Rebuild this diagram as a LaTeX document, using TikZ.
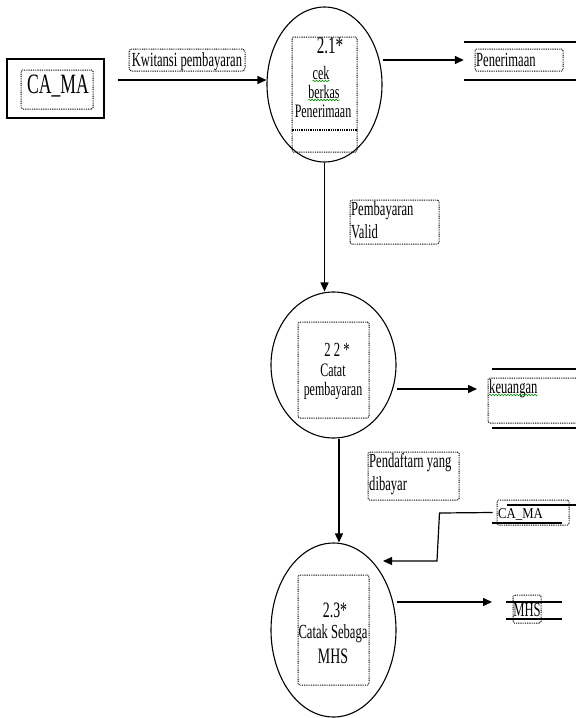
\documentclass[tikz,border=0pt]{standalone}
\usepackage{fontspec}
\setmainfont[FakeStretch=0.63]{Liberation Serif}
\newfontfamily\widefont[FakeStretch=0.85]{Liberation Serif}
\usetikzlibrary{shapes.geometric,arrows.meta,decorations.pathmorphing,calc}
\begin{document}
\begin{tikzpicture}[x=1pt,y=-1pt,
  proc/.style={ellipse,draw,line width=1.1pt,inner sep=0pt},
  dotbox/.style={draw,dash pattern=on 0.9pt off 0.9pt,line width=1pt,rounded corners=1.5pt,inner sep=0pt},
  t/.style={inner sep=0pt,font=\fontsize{20}{22}\selectfont},
  ts/.style={inner sep=0pt,font=\fontsize{19}{21}\selectfont},
  arr/.style={line width=1.4pt,-{Triangle[length=9pt,width=8pt]}},
  storeline/.style={line width=1.8pt},
  squig/.style={draw=green!55!black,line width=0.6pt,decorate,decoration={snake,amplitude=0.7pt,segment length=3pt}}
]
\useasboundingbox (0,0) rectangle (576,718);

% external entity CA_MA
\node[draw,line width=1.3pt,minimum width=97pt,minimum height=59pt,inner sep=0pt] (ext) at (55.5,88.5) {};
\node[dotbox,minimum width=72pt,minimum height=39pt] (extb) at (57,89.5) {};
\node[t,font=\fontsize{28}{30}\selectfont,anchor=base] (extt) at (58,93) {CA\_MA};

% label Kwitansi
\node[dotbox,rounded corners=3pt,minimum width=116pt,minimum height=22pt] (kwb) at (187,60) {};
\node[t,anchor=base] (kwt) at (187,66) {Kwitansi pembayaran};

% process 2.1
\node[proc,minimum width=115pt,minimum height=155pt] (p1) at (324.5,84.5) {};
\coordinate (a1) at (118,80);
\draw[arr] (a1) -- (a1 -| p1.west);
\node[dotbox,minimum width=65pt,minimum height=115pt] (p1b) at (324.5,94.5) {};
\draw[dash pattern=on 0.9pt off 0.9pt,line width=1.5pt] ($(p1b.south west)+(0,-22.5)$) -- ($(p1b.south east)+(0,-22.5)$);
\node[t,font=\fontsize{24}{26}\selectfont,anchor=base] (p1n) at (330,53) {2.1*};
\node[ts,anchor=base] (p1l1) at (321,79) {cek};
\node[ts,anchor=base] (p1l2) at (324,98) {berkas};
\node[ts,anchor=base] (p1l3) at (323,117) {Penerimaan};
\draw[squig] ($(p1l1.base west)+(0,2)$) -- ($(p1l1.base east)+(0,2)$);
\draw[squig] ($(p1l2.base west)+(0,2)$) -- ($(p1l2.base east)+(0,2)$);

% store Penerimaan
\node[minimum width=112pt,minimum height=38pt,inner sep=0pt] (s1) at (520,61) {};
\draw[storeline] (s1.north west) -- (s1.north east) (s1.south west) -- (s1.south east);
\node[dotbox,minimum width=88pt,minimum height=22pt] (s1b) at (519,60) {};
\node[t,anchor=base west] (s1t) at (476,66) {Penerimaan};
\draw[arr] (p1.east |- s1b) -- (s1.west |- s1b);

% process 2.2
\node[proc,minimum width=125pt,minimum height=146pt] (p2) at (333.5,365) {};
\draw[arr] (p1.south) -- (p1.south |- p2.north);
\node[dotbox,minimum width=89pt,minimum height=44pt] (pvb) at (394.5,222) {};
\node[t,anchor=base west] (pv1) at (351,215) {Pembayaran};
\node[t,anchor=base west] (pv2) at (351,238) {Valid};
\node[dotbox,minimum width=71pt,minimum height=96pt] (p2b) at (333.5,370) {};
\node[t,anchor=base] (p2n) at (337,356) {2 2 *};
\node[ts,anchor=base] (p2l1) at (333,376) {Catat};
\node[ts,anchor=base] (p2l2) at (333,395) {pembayaran};

% store keuangan
\node[minimum width=84pt,minimum height=59pt,inner sep=0pt] (s2) at (534,398.5) {};
\draw[storeline] (s2.north west) -- (s2.north east) (s2.south west) -- (s2.south east);
\node[dotbox,minimum width=95pt,minimum height=45pt] (s2b) at (535.5,400.5) {};
\node[t,anchor=base west] (s2t) at (489,393) {keuangan};
\draw[squig] ($(s2t.base west)+(0,2)$) -- ($(s2t.base east)+(0,2)$);
\coordinate (k1) at (477,389);
\draw[arr] (p2.east |- k1) -- (k1);

% process 2.3
\node[proc,minimum width=125pt,minimum height=174pt] (p3) at (333.5,630) {};
\coordinate (v2) at ([xshift=5.5pt]p2.south);
\draw[arr] (v2) -- (v2 |- p3.north);
\node[dotbox,minimum width=91pt,minimum height=48pt] (pdb) at (413.5,476) {};
\node[t,anchor=base west] (pd1) at (369,467) {Pendaftarn yang};
\node[t,anchor=base west] (pd2) at (369,490) {dibayar};
\node[dotbox,minimum width=71pt,minimum height=110pt] (p3b) at (333.5,630) {};
\node[t,font=\fontsize{22}{24}\selectfont,anchor=base] (p3n) at (335,617) {2.3*};
\node[t,anchor=base] (p3l1) at (333,638) {Catak Sebaga};
\node[t,font=\fontsize{22}{24}\selectfont,anchor=base] (p3l2) at (333,663) {MHS};

% store CA_MA (right)
\draw[line width=1.4pt] (507,505) -- (576,505) (492,523) -- (562,523);
\node[dotbox,minimum width=72pt,minimum height=25pt] (cs2b) at (533,512.5) {};
\node[t,font=\widefont\fontsize{15}{17}\selectfont,anchor=base west] (cs2t) at (498,518) {CA\_MA};
\coordinate (j1) at (439.5,513);
\coordinate (j2) at (437,561);
\coordinate (c3in) at (383,561);
\draw[arr,line width=1.2pt] ([xshift=-4pt]cs2b.west) -- (j1) -- (j2) -- (c3in);

% store MHS
\draw[line width=1.4pt] (506,602) -- (562,602) (506,619) -- (562,619);
\node[dotbox,minimum width=28pt,minimum height=28pt] (mhsb) at (527,609) {};
\node[t,anchor=base] (mhst) at (527,616) {MHS};
\coordinate (m1) at (492,602);
\draw[arr] (p3.east |- m1) -- (m1);
\end{tikzpicture}
\end{document}
